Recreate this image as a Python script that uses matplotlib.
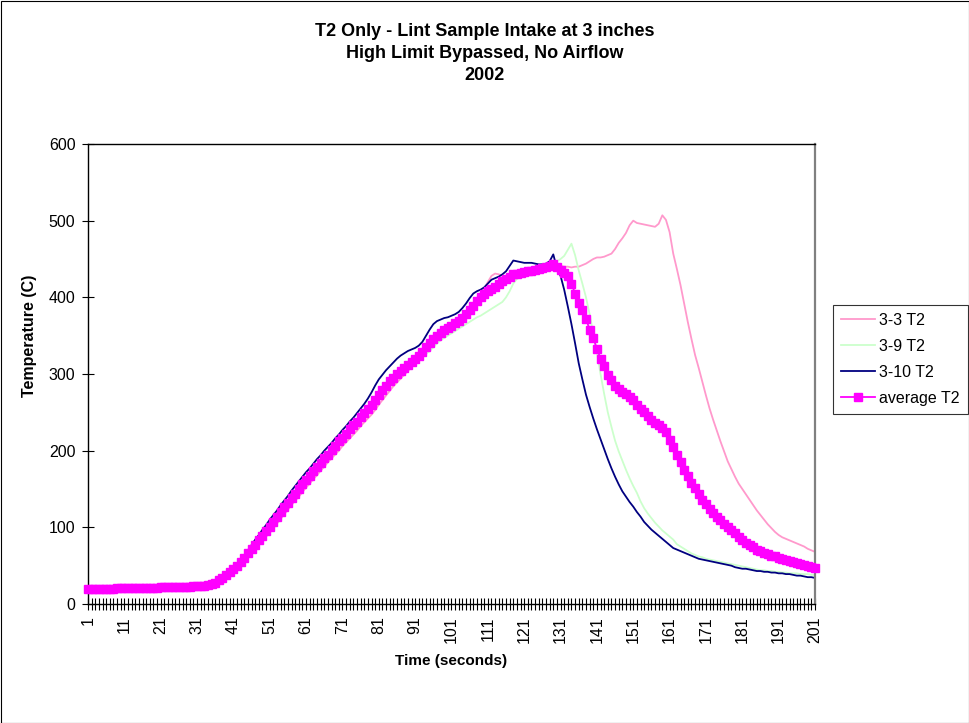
import numpy as np
import matplotlib
matplotlib.use("Agg")
from matplotlib import pyplot as plt
from matplotlib.patches import Rectangle

plt.rcParams['font.family'] = ['Liberation Sans', 'DejaVu Sans']

# time axis: one category per second, 1..201
time_s = list(range(1, 202))
tick_labels = [str(t) for t in range(1, 202, 10)]

t2_3_3 = [
    20, 20, 20, 20, 20, 20, 20, 20, 21, 21,
    21, 21, 21, 21, 21, 21, 21, 21, 21, 22,
    22, 22, 22, 22, 22, 22, 22, 22, 22, 23,
    23, 23, 23, 24, 25, 27, 29, 32, 36, 40,
    43, 47, 51, 56, 61, 66, 71, 77, 82, 88,
    93, 99, 105, 111, 117, 123, 129, 135, 140, 146,
    152, 157, 163, 168, 174, 179, 185, 190, 195, 200,
    206, 211, 216, 221, 226, 232, 237, 242, 247, 253,
    260, 266, 272, 278, 284, 289, 294, 299, 304, 309,
    314, 319, 324, 328, 333, 338, 343, 348, 352, 356,
    360, 364, 368, 373, 378, 384, 390, 397, 404, 411,
    420, 428, 431, 430, 428, 427, 428, 429, 430, 431,
    432, 433, 434, 435, 436, 437, 437, 437, 437, 440,
    441, 440, 440, 439, 440, 440, 442, 444, 447, 450,
    452, 452, 453, 455, 457, 463, 471, 477, 484, 494,
    500, 497, 496, 495, 494, 493, 492, 496, 507, 501,
    485, 457, 437, 416, 392, 368, 346, 325, 308, 290,
    272, 255, 240, 226, 212, 199, 186, 176, 166, 157,
    150, 143, 136, 129, 122, 116, 110, 104, 99, 94,
    90, 87, 85, 83, 81, 79, 77, 75, 72, 70,
    68,
]

t2_3_9 = [
    21, 21, 21, 21, 21, 21, 21, 21, 21, 21,
    21, 21, 21, 21, 22, 22, 22, 22, 22, 22,
    22, 22, 22, 22, 22, 23, 23, 23, 23, 23,
    23, 23, 24, 25, 26, 28, 31, 34, 38, 42,
    46, 50, 55, 60, 66, 71, 77, 83, 89, 95,
    101, 107, 113, 119, 125, 131, 137, 143, 149, 155,
    160, 166, 171, 177, 182, 188, 193, 199, 204, 210,
    215, 220, 225, 231, 236, 241, 246, 251, 257, 262,
    268, 274, 280, 286, 290, 294, 298, 302, 306, 310,
    314, 318, 322, 326, 330, 335, 340, 344, 347, 350,
    353, 356, 359, 362, 365, 368, 371, 374, 376, 379,
    382, 385, 388, 391, 394, 400, 408, 418, 424, 426,
    428, 429, 431, 433, 435, 437, 439, 440, 443, 447,
    450, 454, 462, 470, 455, 435, 418, 400, 378, 353,
    328, 300, 274, 250, 231, 213, 199, 187, 175, 164,
    154, 145, 134, 125, 118, 112, 106, 101, 96, 92,
    88, 84, 78, 75, 72, 69, 66, 64, 62, 61,
    59, 58, 57, 56, 55, 54, 53, 52, 51, 50,
    49, 48, 47, 46, 45, 44, 44, 43, 43, 42,
    42, 41, 41, 40, 40, 40, 39, 39, 39, 38,
    38,
]

t2_3_10 = [
    19, 19, 19, 20, 20, 20, 20, 20, 20, 20,
    20, 20, 21, 21, 21, 21, 21, 21, 21, 21,
    21, 21, 21, 22, 22, 22, 22, 22, 22, 22,
    23, 23, 24, 25, 27, 29, 32, 36, 40, 45,
    49, 53, 58, 64, 70, 77, 84, 90, 97, 103,
    110, 116, 122, 129, 135, 141, 148, 154, 160, 166,
    172, 177, 183, 189, 194, 200, 205, 210, 216, 221,
    227, 232, 238, 243, 249, 255, 261, 268, 276, 285,
    293, 299, 305, 310, 315, 320, 324, 327, 330, 332,
    334, 337, 342, 350, 358, 365, 369, 371, 373, 374,
    376, 378, 381, 386, 392, 399, 405, 408, 410, 413,
    418, 423, 425, 427, 430, 434, 441, 448, 447, 446,
    445, 445, 445, 444, 443, 443, 444, 447, 456, 438,
    428, 410, 388, 365, 340, 314, 293, 273, 257, 242,
    228, 215, 202, 189, 177, 166, 156, 147, 140, 133,
    127, 120, 114, 107, 102, 97, 93, 89, 85, 81,
    77, 73, 71, 69, 67, 65, 63, 61, 59, 58,
    57, 56, 55, 54, 53, 52, 51, 50, 48, 47,
    46, 46, 45, 44, 43, 43, 42, 42, 41, 41,
    40, 40, 39, 39, 38, 37, 37, 36, 35, 35,
    34,
]

t2_avg = [
    20, 20, 20, 20, 20, 20, 20, 20, 21, 21,
    21, 21, 21, 21, 21, 21, 21, 21, 21, 21,
    22, 22, 22, 22, 22, 22, 22, 22, 22, 23,
    23, 23, 24, 25, 26, 28, 31, 34, 38, 42,
    46, 50, 55, 60, 66, 72, 77, 83, 89, 95,
    101, 107, 113, 120, 126, 132, 138, 144, 150, 156,
    162, 167, 173, 179, 184, 190, 195, 201, 206, 212,
    217, 222, 228, 233, 238, 244, 249, 254, 260, 266,
    273, 279, 285, 291, 295, 300, 304, 308, 312, 316,
    320, 324, 329, 335, 340, 346, 350, 354, 357, 360,
    363, 366, 369, 373, 378, 383, 389, 395, 400, 404,
    408, 411, 414, 417, 421, 424, 427, 430, 431, 432,
    433, 434, 435, 436, 437, 438, 439, 441, 444, 440,
    436, 432, 428, 418, 405, 393, 383, 372, 358, 347,
    333, 320, 310, 299, 292, 285, 281, 277, 274, 270,
    266, 260, 255, 250, 245, 240, 236, 233, 230, 225,
    214, 205, 195, 185, 175, 167, 158, 151, 143, 136,
    130, 124, 119, 114, 109, 105, 101, 97, 93, 88,
    84, 80, 77, 74, 71, 69, 67, 65, 63, 62,
    60, 59, 58, 56, 55, 53, 52, 51, 49, 48,
    47,
]

W, H = 970, 723
fig = plt.figure(figsize=(W / 100, H / 100), dpi=100)
ax = fig.add_axes([88 / W, 1 - 604 / H, (815 - 88) / W, (604 - 144) / H])

ax.plot(time_s, t2_3_3, color='#FF99CC', lw=1.3, label='3-3 T2')
ax.plot(time_s, t2_3_9, color='#CCFFCC', lw=1.3, label='3-9 T2')
ax.plot(time_s, t2_3_10, color='#000080', lw=1.3, label='3-10 T2')
ax.plot(time_s, t2_avg, color='#FF00FF', lw=1.3, marker='s', markersize=5.2,
        markeredgecolor='#FF00FF', markerfacecolor='#FF00FF',
        label='average T2', clip_on=False, zorder=5)

ax.set_xlim(1, 201)
ax.set_ylim(0, 600)
ax.set_yticks(range(0, 601, 100))
ax.set_xticks(range(1, 202, 10))
ax.set_xticklabels(tick_labels, rotation=90, va='top')
ax.set_xticks(time_s, minor=True)

ax.tick_params(axis='both', which='both', direction='inout', color='black', width=0.8)
ax.tick_params(axis='y', which='major', length=8, pad=5, labelsize=11.5)
ax.tick_params(axis='x', which='major', length=8, pad=5, labelsize=11.5)
ax.tick_params(axis='x', which='minor', length=8)

for side in ['left', 'bottom', 'top']:
    ax.spines[side].set_color('black')
    ax.spines[side].set_linewidth(1.0)
ax.spines['right'].set_color('#808080')
ax.spines['right'].set_linewidth(1.6)

ax.set_xlabel('Time (seconds)', fontsize=11, fontweight='bold', labelpad=8)
ax.set_ylabel('Temperature (C)', fontsize=11.5, fontweight='bold')
ax.yaxis.set_label_coords((37 - 88) / 727, (604 - 336) / 460)

title_lines = ['T2 Only - Lint Sample Intake at 3 inches', 'High Limit Bypassed, No Airflow', '2002']
for line, ypx in zip(title_lines, [31, 53, 76]):
    fig.text(0.5, 1 - ypx / H, line, ha='center', va='center', fontsize=13, fontweight='bold')

leg = fig.legend(loc='upper left', bbox_to_anchor=(833 / W, 1 - 305 / H), borderaxespad=0,
                 fontsize=11.5, frameon=True, fancybox=False, handlelength=2.1,
                 labelspacing=0.68, numpoints=1, borderpad=0.5, handletextpad=0.3)
leg.get_frame().set_edgecolor('black')
leg.get_frame().set_linewidth(0.8)

# chart area border
fig.patches.append(Rectangle((0.5 / W, 0.5 / H), 1 - 1.5 / W, 1 - 1.5 / H, transform=fig.transFigure,
                             fill=False, edgecolor='black', linewidth=0.8))

fig.savefig('out.png', dpi=100)
